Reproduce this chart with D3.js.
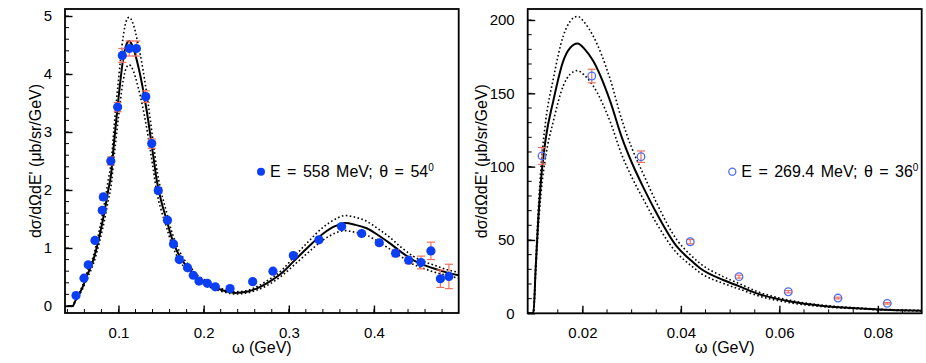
<!DOCTYPE html>
<html>
<head>
<meta charset="utf-8">
<script src="https://cdn.jsdelivr.net/npm/d3@7/dist/d3.min.js"></script>
<style>
  html, body { margin: 0; padding: 0; background: #fff; }
  svg { display: block; font-family: "Liberation Sans", Arial, Helvetica, sans-serif; }
</style>
</head>
<body>
<svg id="chart" width="926" height="363"></svg>
<script>
// ---------- Left panel: E = 558 MeV, theta = 54 deg ----------
const omegaL = [0.0501,0.0595,0.0645,0.0724,0.0810,0.0822,0.0910,0.0990,0.1045,0.1127,0.1210,0.1320,0.1390,0.1467,0.1575,0.1646,0.1714,0.1811,0.1878,0.1945,0.2043,0.2137,0.2310,0.2576,0.2814,0.3053,0.3354,0.3620,0.3855,0.4062,0.4254,0.4407,0.4552,0.4669,0.4780,0.4880];
const xsecL  = [0.18,0.48,0.71,1.13,1.65,1.88,2.50,3.43,4.32,4.44,4.44,3.61,2.80,1.99,1.48,1.07,0.80,0.66,0.53,0.43,0.39,0.33,0.30,0.42,0.60,0.87,1.14,1.37,1.25,1.09,0.91,0.79,0.75,0.95,0.47,0.51];
const errL   = [0.02,0.02,0.03,0.03,0.04,0.05,0.07,0.08,0.12,0.13,0.13,0.10,0.08,0.05,0.04,0.03,0.02,0.02,0.02,0.02,0.02,0.02,0.02,0.02,0.02,0.02,0.03,0.03,0.03,0.04,0.06,0.06,0.11,0.15,0.15,0.21];

const curveOmegaL = [0.0404,0.0463,0.0490,0.0533,0.0580,0.0627,0.0704,0.0783,0.0840,0.0880,0.0912,0.0950,0.0998,0.1056,0.1090,0.1125,0.1160,0.1233,0.1330,0.1410,0.1449,0.1500,0.1566,0.1620,0.1680,0.1760,0.1840,0.1930,0.2035,0.2150,0.2270,0.2370,0.2520,0.2620,0.2740,0.2935,0.3050,0.3210,0.3405,0.3550,0.3660,0.3780,0.3914,0.4050,0.4188,0.4320,0.4460,0.4580,0.4696,0.4850,0.4990];
const curveMidL   = [0.00,0.00,0.08,0.19,0.33,0.51,0.79,1.25,1.66,2.00,2.26,2.85,3.55,4.27,4.50,4.57,4.50,4.13,3.38,2.57,2.17,1.82,1.48,1.20,0.97,0.76,0.62,0.49,0.39,0.31,0.25,0.225,0.25,0.30,0.39,0.59,0.76,0.99,1.25,1.38,1.43,1.40,1.34,1.22,1.08,0.93,0.79,0.71,0.65,0.58,0.53];
const curveHiL    = [0.00,0.00,0.09,0.21,0.36,0.56,0.86,1.36,1.81,2.18,2.46,3.11,3.87,4.65,4.91,4.98,4.91,4.50,3.68,2.80,2.37,1.98,1.61,1.31,1.06,0.83,0.68,0.53,0.43,0.34,0.27,0.245,0.27,0.33,0.43,0.64,0.83,1.08,1.36,1.50,1.56,1.53,1.46,1.33,1.18,1.01,0.86,0.77,0.71,0.63,0.58];
const curveLoL    = [0.00,0.00,0.07,0.17,0.30,0.46,0.72,1.14,1.51,1.82,2.06,2.59,3.23,3.89,4.10,4.16,4.10,3.76,3.08,2.34,1.97,1.66,1.35,1.09,0.88,0.69,0.56,0.45,0.35,0.28,0.23,0.205,0.23,0.27,0.35,0.54,0.69,0.90,1.14,1.26,1.30,1.27,1.22,1.11,0.98,0.85,0.72,0.65,0.59,0.53,0.48];

const xTicksL = [0.1,0.2,0.3,0.4];
const yTicksL = [0,1,2,3,4,5];

// ---------- Right panel: E = 269.4 MeV, theta = 36 deg ----------
const omegaR = [0.0118,0.0219,0.0319,0.0419,0.0518,0.0618,0.0719,0.0819];
const xsecR  = [107.3,161.8,106.8,48.8,25.0,14.7,10.4,6.8];
const errR   = [5.7,4.6,3.9,1.5,1.0,0.8,0.6,0.5];

const curveOmegaR = [0.0089,0.01005,0.0105,0.0110,0.0116,0.0125,0.0141,0.0161,0.0175,0.0190,0.0205,0.0222,0.0256,0.0280,0.0300,0.0325,0.0351,0.0392,0.0419,0.0439,0.0486,0.0520,0.0554,0.0622,0.0689,0.0757,0.0825,0.0889];
const curveMidR   = [0,0,30,62,91,118,145,172,181,184,180,172,145,120,103,85,68,45.4,36.5,30.7,22.7,18.2,13.6,8.0,5.0,3.4,2.3,1.8];
const curveHiR    = [0,0,33,68,100,130,160,189,199,202.5,198,189,160,132,113,94,75,50,40,34,25,20,15,8.8,5.5,3.7,2.5,2.0];
const curveLoR    = [0,0,27,56,82,106,131,155,163,165.5,162,155,131,108,93,77,61,41,33,27.6,20.4,16.4,12.2,7.2,4.5,3.1,2.1,1.6];

const xTicksR = [0.02,0.04,0.06,0.08];
const yTicksR = [0,50,100,150,200];

const yTitle = "dσ/dΩdE' (μb/sr/GeV)";
const xTitle = "ω (GeV)";
const legendL = ["E = 558 MeV; θ = 54", "0"];
const legendR = ["E = 269.4 MeV; θ = 36", "0"];

const svg = d3.select("#chart");
const blue = "#0b3ff5";
const blueOpen = "#4d6ef2";
const errColor = "#f2705e";

function panel(o) {
  const g = svg.append("g");
  const x = d3.scaleLinear().domain(o.xDomain).range([o.left, o.right]);
  const y = d3.scaleLinear().domain(o.yDomain).range([o.bottom, o.top]);

  // minor ticks
  const xMinor = d3.range(o.xMinor[0], o.xMinor[1] + 1e-9, o.xMinor[2]);
  const yMinor = d3.range(o.yMinor[0], o.yMinor[1] + 1e-9, o.yMinor[2]);
  g.selectAll(".xm").data(xMinor).join("line")
    .attr("x1", d => x(d)).attr("x2", d => x(d))
    .attr("y1", o.bottom).attr("y2", o.bottom - 4)
    .attr("stroke", "#000").attr("stroke-width", 1);
  g.selectAll(".ym").data(yMinor).join("line")
    .attr("y1", d => y(d)).attr("y2", d => y(d))
    .attr("x1", o.left).attr("x2", o.left + 4)
    .attr("stroke", "#000").attr("stroke-width", 1);

  // axes with major ticks (inside)
  const xAxis = d3.axisBottom(x).tickValues(o.xTicks).tickSizeInner(-7.5).tickSizeOuter(0).tickPadding(14)
    .tickFormat(o.xFmt);
  const gx = g.append("g").attr("transform", `translate(0,${o.bottom})`).call(xAxis);
  gx.select(".domain").remove();
  gx.selectAll(".tick line").attr("stroke-width", 1.4);
  gx.selectAll("text").attr("font-size", 15).attr("fill", "#000").attr("font-family", "Liberation Sans, Arial, sans-serif");

  const yAxis = d3.axisLeft(y).tickValues(o.yTicks).tickSizeInner(-7.5).tickSizeOuter(0).tickPadding(13)
    .tickFormat(d3.format("d"));
  const gy = g.append("g").attr("transform", `translate(${o.left},0)`).call(yAxis);
  gy.select(".domain").remove();
  gy.selectAll(".tick line").attr("stroke-width", 1.4);
  gy.selectAll("text").attr("font-size", 15).attr("fill", "#000").attr("font-family", "Liberation Sans, Arial, sans-serif");

  // frame
  g.append("rect").attr("x", o.left).attr("y", o.top)
    .attr("width", o.right - o.left).attr("height", o.bottom - o.top)
    .attr("fill", "none").attr("stroke", "#000").attr("stroke-width", 1.8);

  // curves
  const clip = "clip" + o.id;
  svg.append("clipPath").attr("id", clip).append("rect")
    .attr("x", o.left).attr("y", o.top).attr("width", o.right - o.left).attr("height", o.bottom - o.top);
  const line = d3.line().x(d => x(d[0])).y(d => y(d[1])).curve(d3.curveMonotoneX);
  const cg = g.append("g").attr("clip-path", `url(#${clip})`);
  [o.hi, o.lo].forEach(arr => {
    cg.append("path").datum(o.cx.map((v, i) => [v, arr[i]]))
      .attr("d", line).attr("fill", "none").attr("stroke", "#000")
      .attr("stroke-width", 1.6).attr("stroke-dasharray", "1.6,2.4");
  });
  cg.append("path").datum(o.cx.map((v, i) => [v, o.mid[i]]))
    .attr("d", line).attr("fill", "none").attr("stroke", "#000").attr("stroke-width", 2);

  // data: error bars
  const pts = o.px.map((v, i) => ({ x: v, y: o.py[i], e: o.pe[i] }));
  const eb = g.append("g").attr("stroke", errColor).attr("stroke-width", 1.2);
  pts.forEach(p => {
    eb.append("line").attr("x1", x(p.x)).attr("x2", x(p.x)).attr("y1", y(p.y - p.e)).attr("y2", y(p.y + p.e));
    [p.y - p.e, p.y + p.e].forEach(v => {
      eb.append("line").attr("x1", x(p.x) - 4).attr("x2", x(p.x) + 4).attr("y1", y(v)).attr("y2", y(v));
    });
  });
  g.append("g").selectAll("circle").data(pts).join("circle")
    .attr("cx", d => x(d.x)).attr("cy", d => y(d.y))
    .attr("r", o.open ? 3.8 : 4.6)
    .attr("fill", o.open ? "none" : blue)
    .attr("stroke", o.open ? blueOpen : "none")
    .attr("stroke-width", 1.3);

  // titles
  svg.append("text").attr("x", (o.left + o.right) / 2).attr("y", 353)
    .attr("text-anchor", "middle").attr("font-size", 16).text(xTitle);
  svg.append("text").attr("transform", `translate(${o.yTitleX},${(o.top + o.bottom) / 2}) rotate(-90)`)
    .attr("text-anchor", "middle").attr("dominant-baseline", "central").attr("font-size", 16).text(yTitle);

  // legend
  const lg = svg.append("g");
  lg.append("circle").attr("cx", o.legX).attr("cy", 171.7).attr("r", o.open ? 3.5 : 4)
    .attr("fill", o.open ? "none" : blue).attr("stroke", o.open ? blueOpen : "none").attr("stroke-width", 1.3);
  const t = lg.append("text").attr("x", o.legX + 9).attr("y", 177).attr("font-size", 16).attr("word-spacing", 2);
  t.append("tspan").text(o.legend[0]);
  t.append("tspan").attr("dy", -6).attr("font-size", 10).text(o.legend[1]);
}

panel({
  id: "L", left: 65, right: 458.7, top: 9, bottom: 313,
  xDomain: [0.0372, 0.4995], yDomain: [-0.121, 5.121],
  xTicks: xTicksL, yTicks: yTicksL, xFmt: d3.format(".1f"),
  xMinor: [0.04, 0.48, 0.02], yMinor: [0, 5, 0.2],
  cx: curveOmegaL, mid: curveMidL, hi: curveHiL, lo: curveLoL,
  px: omegaL, py: xsecL, pe: errL, open: false,
  yTitleX: 35, legX: 261, legend: legendL
});

panel({
  id: "R", left: 527.7, right: 921.7, top: 9, bottom: 313.3,
  xDomain: [0.00889, 0.0889], yDomain: [0, 207.5],
  xTicks: xTicksR, yTicks: yTicksR, xFmt: d3.format(".2f"),
  xMinor: [0.01, 0.085, 0.005], yMinor: [0, 200, 10],
  cx: curveOmegaR, mid: curveMidR, hi: curveHiR, lo: curveLoR,
  px: omegaR, py: xsecR, pe: errR, open: true,
  yTitleX: 481, legX: 732.3, legend: legendR
});
</script>
</body>
</html>
